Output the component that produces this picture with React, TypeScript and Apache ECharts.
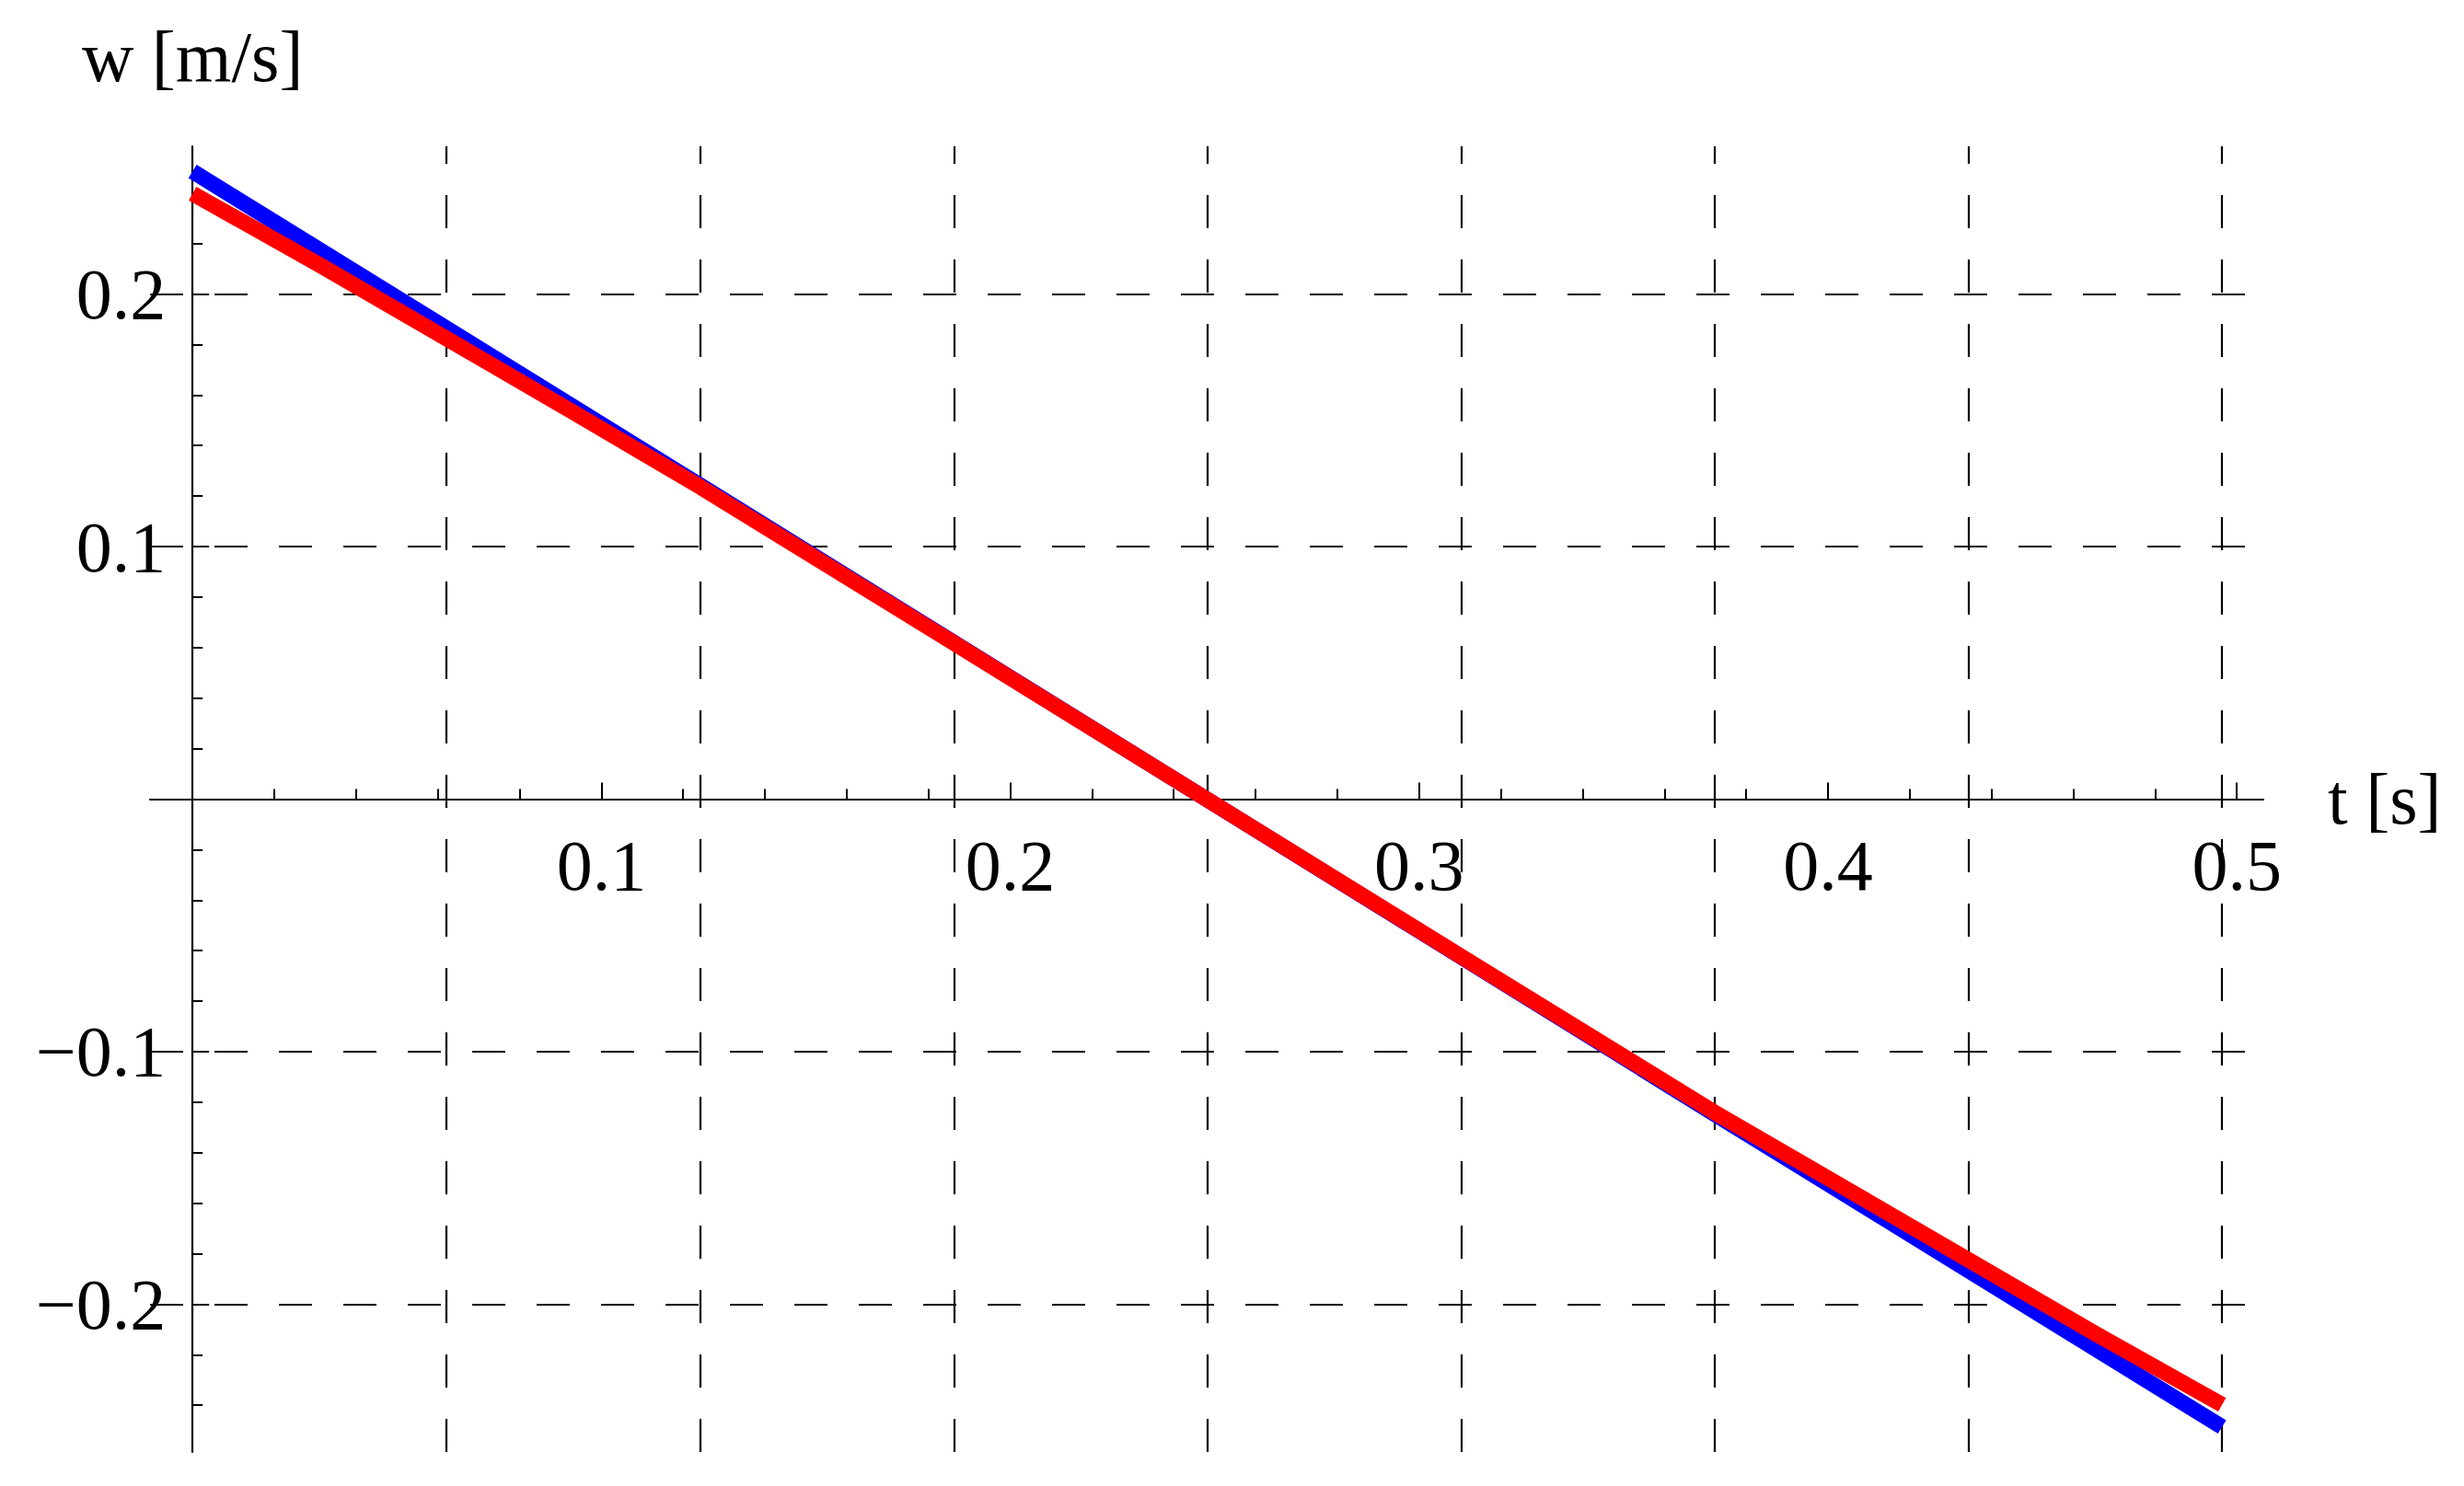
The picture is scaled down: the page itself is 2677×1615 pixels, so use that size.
import React, { useEffect, useRef } from "react";
import * as echarts from "echarts";

// ---- data ----
const tBlue = [0, 0.124, 0.248, 0.372, 0.4964];
const wBlue = [0.2486, 0.1244, 0, -0.1244, -0.2486];

const tRed = [0, 0.031, 0.062, 0.093, 0.124, 0.186, 0.248, 0.31, 0.372, 0.4034, 0.4344, 0.4654, 0.4964];
const wRed = [0.2398, 0.2116, 0.1825, 0.1533, 0.1238, 0.062, 0, -0.062, -0.1238, -0.1533, -0.1825, -0.2116, -0.2398];

const gridT = [0.0621, 0.1241, 0.1862, 0.2482, 0.3103, 0.3723, 0.4344, 0.4964];
const gridW = [-0.2, -0.1, 0.1, 0.2];

const xTickValues = [0.1, 0.2, 0.3, 0.4, 0.5];
const yTickValues = [-0.2, -0.1, 0.1, 0.2];

const X_MIN = -0.0104;
const X_MAX = 0.5065;
const Y_MIN = -0.2585;
const Y_MAX = 0.2585;

const FONT = "'Liberation Serif', 'Times New Roman', 'DejaVu Serif', serif";
const FS = 78;

const GRID = { left: 163, top: 159, width: 2296, height: 1419 };

function fmt(v: number): string {
  const s = Math.abs(v).toFixed(1);
  return v < 0 ? "\u2212" + s : s;
}

export default function App() {
  const ref = useRef<HTMLDivElement>(null);

  useEffect(() => {
    if (!ref.current) return;
    const chart = echarts.init(ref.current, undefined, { renderer: "svg" });

    const xAxisOffset = -(GRID.height * (0 - Y_MIN)) / (Y_MAX - Y_MIN);
    const yAxisOffset = -(GRID.width * (0 - X_MIN)) / (X_MAX - X_MIN);

    const lineColor = "#000";
    const gridLine = { color: "#000", width: 2.2, type: [36, 34] as number[] };

    const option: any = {
      animation: false,
      backgroundColor: "#fff",
      grid: {
        left: GRID.left,
        top: GRID.top,
        width: GRID.width,
        height: GRID.height,
        containLabel: false,
      },
      xAxis: {
        type: "value",
        min: X_MIN,
        max: X_MAX,
        position: "bottom",
        offset: xAxisOffset,
        name: "t [s]",
        nameLocation: "end",
        nameGap: 70,
        nameTextStyle: { fontFamily: FONT, fontSize: FS, color: "#000" },
        axisLine: { show: true, onZero: false, lineStyle: { color: lineColor, width: 2.2 } },
        axisTick: {
          show: true,
          inside: true,
          length: 18,
          customValues: xTickValues,
          lineStyle: { color: lineColor, width: 2 },
        },
        minorTick: {
          show: true,
          splitNumber: 5,
          length: 11,
          lineStyle: { color: lineColor, width: 2 },
        },
        axisLabel: {
          show: true,
          customValues: xTickValues,
          margin: 33,
          fontFamily: FONT,
          fontSize: FS,
          color: "#000",
          formatter: (v: number) => fmt(v),
        },
        splitLine: { show: false },
        minorSplitLine: { show: false },
      },
      yAxis: {
        type: "value",
        min: Y_MIN,
        max: Y_MAX,
        position: "left",
        offset: yAxisOffset,
        name: "w [m/s]",
        nameLocation: "end",
        nameGap: 59,
        nameTextStyle: { fontFamily: FONT, fontSize: FS, color: "#000" },
        axisLine: { show: true, onZero: false, lineStyle: { color: lineColor, width: 2.2 } },
        axisTick: {
          show: true,
          inside: true,
          length: 18,
          customValues: yTickValues,
          lineStyle: { color: lineColor, width: 2 },
        },
        minorTick: {
          show: true,
          splitNumber: 5,
          length: 11,
          lineStyle: { color: lineColor, width: 2 },
        },
        axisLabel: {
          show: true,
          customValues: yTickValues,
          margin: 29,
          fontFamily: FONT,
          fontSize: FS,
          color: "#000",
          formatter: (v: number) => fmt(v),
        },
        splitLine: { show: false },
        minorSplitLine: { show: false },
      },
      series: [
        {
          name: "grid",
          type: "line",
          data: [],
          symbol: "none",
          silent: true,
          z: 1,
          markLine: {
            silent: true,
            symbol: ["none", "none"],
            precision: 6,
            z: 1,
            label: { show: false },
            emphasis: { disabled: true },
            lineStyle: gridLine,
            data: [
              ...gridT.map((v) => ({ xAxis: v })),
              ...gridW.map((v) => ({ yAxis: v })),
            ],
          },
        },
        {
          name: "blue",
          type: "line",
          data: tBlue.map((t, i) => [t, wBlue[i]]),
          symbol: "none",
          z: 3,
          lineStyle: { color: "#0000ff", width: 17, cap: "butt", join: "miter" },
        },
        {
          name: "red",
          type: "line",
          data: tRed.map((t, i) => [t, wRed[i]]),
          symbol: "none",
          z: 4,
          smooth: false,
          lineStyle: { color: "#ff0000", width: 17, cap: "butt", join: "round" },
        },
      ],
    };

    chart.setOption(option);
    return () => {
      chart.dispose();
    };
  }, []);

  return (
    <div
      ref={ref}
      style={{ position: "fixed", left: 0, top: 0, width: 2677, height: 1615, background: "#fff" }}
    />
  );
}
